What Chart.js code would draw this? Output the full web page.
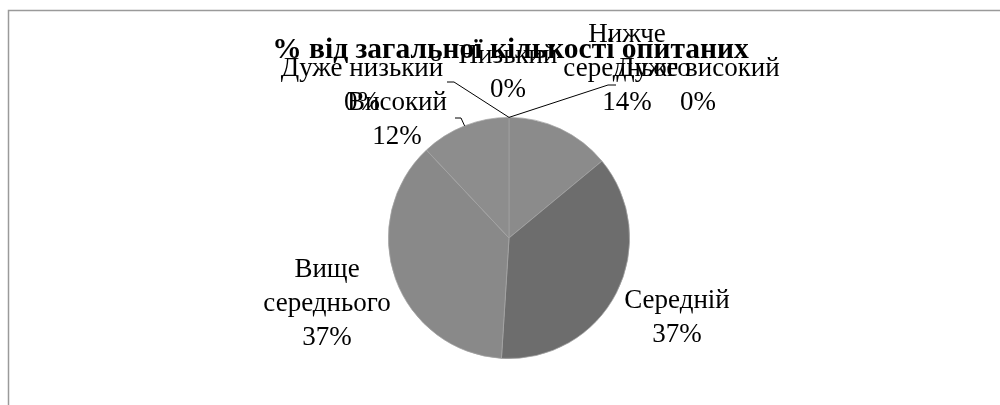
<!DOCTYPE html>
<html>
<head>
<meta charset="utf-8">
<script src="https://cdn.jsdelivr.net/npm/chart.js@4/dist/chart.umd.min.js"></script>
<style>
  html, body { margin: 0; padding: 0; background: #fff; }
  #wrap { width: 1000px; height: 405px; position: relative; }
</style>
</head>
<body>
<div id="wrap"><canvas id="myChart" width="1000" height="405"></canvas></div>
<script>
// data
const chartTitle = "% від загальної кількості опитаних";
const categories = ["Дуже низький", "Низький", "Нижче середнього", "Середній", "Вище середнього", "Високий", "Дуже високий"];
const values = [0, 0, 14, 37, 37, 12, 0];
const sliceColors = ["#8a8a8a", "#8a8a8a", "#8b8b8b", "#6d6d6d", "#898989", "#8d8d8d", "#8a8a8a"];

// how each category name is broken into lines on the chart
const labelLines = [
  ["Дуже низький"],
  ["Низький"],
  ["Нижче", "середнього"],
  ["Середній"],
  ["Вище", "середнього"],
  ["Високий"],
  ["Дуже високий"]
];
// label placement, offsets from the pie centre: [x centre, first baseline]
const labelPos = [[-147, -162], [-1, -175], [118, -196], [168, 70], [-182, 39], [-112, -128], [189, -162]];
// leader line points near the label (the last point is the slice edge)
const leaders = [[[-62, -156], [-55, -156]], null, null, null, null, [[-54, -120], [-48, -120]], [[107, -153], [99, -153]]];

const FONT = '"Liberation Serif", "DejaVu Serif", serif';

const labelPlugin = {
  id: "pieLabels",
  beforeDraw(chart) {
    const ctx = chart.ctx;
    ctx.save();
    ctx.strokeStyle = "#9a9a9a";
    ctx.lineWidth = 1.5;
    ctx.beginPath();
    ctx.moveTo(8.5, 405);
    ctx.lineTo(8.5, 10.5);
    ctx.lineTo(1000, 10.5);
    ctx.stroke();
    ctx.restore();
  },
  afterDraw(chart) {
    const ctx = chart.ctx;
    const meta = chart.getDatasetMeta(0);
    const total = values.reduce((a, b) => a + b, 0);
    const cx = meta.data[0].x, cy = meta.data[0].y;
    ctx.save();
    // leader lines
    ctx.strokeStyle = "#000";
    ctx.lineWidth = 1;
    meta.data.forEach((arc, i) => {
      if (!leaders[i]) return;
      const mid = (arc.startAngle + arc.endAngle) / 2;
      const r = arc.outerRadius;
      ctx.beginPath();
      ctx.moveTo(cx + leaders[i][0][0], cy + leaders[i][0][1]);
      ctx.lineTo(cx + leaders[i][1][0], cy + leaders[i][1][1]);
      ctx.lineTo(cx + Math.cos(mid) * r, cy + Math.sin(mid) * r);
      ctx.stroke();
    });
    // data labels
    ctx.fillStyle = "#000";
    ctx.textAlign = "center";
    ctx.textBaseline = "alphabetic";
    ctx.font = "27px " + FONT;
    categories.forEach((c, i) => {
      const lines = labelLines[i].concat([Math.round(values[i] / total * 100) + "%"]);
      lines.forEach((t, k) => {
        ctx.fillText(t, cx + labelPos[i][0], cy + labelPos[i][1] + k * 34);
      });
    });
    // title
    ctx.font = "bold 29.5px " + FONT;
    ctx.fillText(chartTitle, cx + 1.5, 58);
    ctx.restore();
  }
};

const ctx = document.getElementById("myChart").getContext("2d");
new Chart(ctx, {
  type: "pie",
  data: {
    labels: categories,
    datasets: [{
      data: values,
      backgroundColor: sliceColors,
      borderColor: "#a4a4a4",
      borderWidth: 0.75
    }]
  },
  options: {
    responsive: false,
    devicePixelRatio: 1,
    animation: false,
    layout: { padding: { left: 388, right: 370, top: 117, bottom: 46 } },
    plugins: {
      legend: { display: false },
      title: { display: false },
      tooltip: { enabled: false }
    }
  },
  plugins: [labelPlugin]
});
</script>
</body>
</html>
